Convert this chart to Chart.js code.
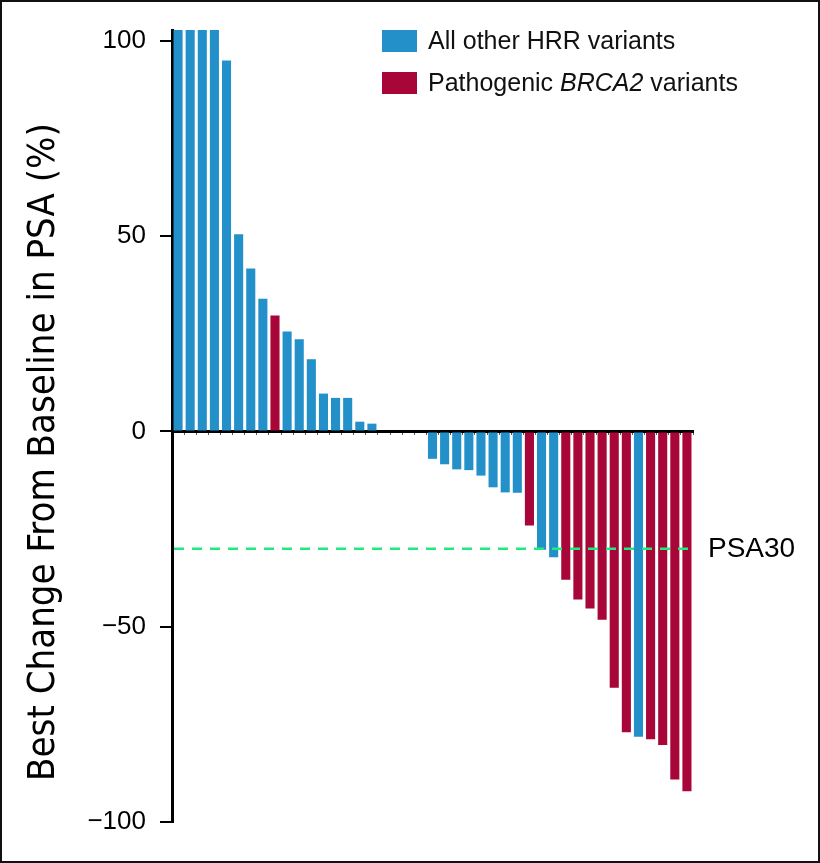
<!DOCTYPE html>
<html>
<head>
<meta charset="utf-8">
<script src="https://cdn.jsdelivr.net/npm/chart.js@4.4.1/dist/chart.umd.min.js"></script>
<style>
  html, body { margin: 0; padding: 0; background: #fff; }
  canvas { display: block; }
</style>
</head>
<body>
<canvas id="psaChart" width="820" height="863"></canvas>
<script>
// best PSA change per patient, sorted (waterfall); first four run off the top of the axis
const patients = Array.from({ length: 43 }, (_, i) => "P" + (i + 1));
const psaChange = [
  110, 110, 110, 110, 95, 50.5, 41.7, 34, 29.7, 25.6, 23.6, 18.5, 9.7, 8.6, 8.6, 2.5, 2,
  0, 0, 0, 0,
  -7, -8.4, -9.7, -9.9, -11.3, -14.3, -15.6, -15.7, -24.1, -30.3, -32.2,
  -38, -43, -45.3, -48.2, -65.6, -77, -78.2, -78.8, -80.3, -89.1, -92.1,
];
// "hrr" = all other HRR variants, "brca2" = pathogenic BRCA2 variants
const variantGroup = [
  "hrr", "hrr", "hrr", "hrr", "hrr", "hrr", "hrr", "hrr", "brca2", "hrr", "hrr", "hrr", "hrr", "hrr", "hrr", "hrr", "hrr",
  "hrr", "hrr", "hrr", "hrr",
  "hrr", "hrr", "hrr", "hrr", "hrr", "hrr", "hrr", "hrr", "brca2", "hrr", "hrr",
  "brca2", "brca2", "brca2", "brca2", "brca2", "brca2", "hrr", "brca2", "brca2", "brca2", "brca2",
];
const yTicks = [-100, -50, 0, 50, 100];
const psa30 = -30;
const yTitle = "Best Change From Baseline in PSA (%)";

const groupColors = { hrr: "#2390c9", brca2: "#a80538" };
const legendItems = [
  { group: "hrr", parts: [{ text: "All other HRR variants", italic: false }] },
  {
    group: "brca2",
    parts: [
      { text: "Pathogenic ", italic: false },
      { text: "BRCA2", italic: true },
      { text: " variants", italic: false },
    ],
  },
];

const extras = {
  id: "extras",
  afterDatasetsDraw(chart) {
    const ctx = chart.ctx;
    const area = chart.chartArea;
    const y = chart.scales.y.getPixelForValue(psa30);
    ctx.save();
    // PSA30 reference line
    ctx.strokeStyle = "#1deb7c";
    ctx.lineWidth = 2.5;
    ctx.setLineDash([10, 8]);
    ctx.beginPath();
    ctx.moveTo(area.left + 2, y);
    ctx.lineTo(area.right, y);
    ctx.stroke();
    ctx.setLineDash([]);
    ctx.fillStyle = "#000";
    ctx.font = "28px 'Liberation Sans', Arial, sans-serif";
    ctx.textBaseline = "middle";
    ctx.textAlign = "left";
    ctx.fillText("PSA30", area.right + 15, y + 1);
    ctx.restore();
  },
  afterDraw(chart) {
    const ctx = chart.ctx;
    ctx.save();
    // y axis title (sits a little below the plot's centre in the original)
    ctx.save();
    ctx.translate(44, 452);
    ctx.rotate(-Math.PI / 2);
    ctx.font = "38px 'Liberation Sans Narrow', 'DejaVu Sans Condensed', sans-serif";
    ctx.fillStyle = "#000";
    ctx.textAlign = "center";
    ctx.textBaseline = "middle";
    ctx.fillText(yTitle, 0, 0);
    ctx.restore();
    // legend
    legendItems.forEach((item, i) => {
      const top = 30 + i * 42;
      ctx.fillStyle = groupColors[item.group];
      ctx.fillRect(382, top, 35, 22);
      let x = 428;
      ctx.fillStyle = "#111";
      ctx.textBaseline = "middle";
      item.parts.forEach((p) => {
        ctx.font = (p.italic ? "italic " : "") + "25px 'Liberation Sans', Arial, sans-serif";
        ctx.fillText(p.text, x, top + 12);
        x += ctx.measureText(p.text).width;
      });
    });
    // outer frame
    ctx.strokeStyle = "#111";
    ctx.lineWidth = 2;
    ctx.strokeRect(1, 1, chart.width - 2, chart.height - 2);
    ctx.restore();
  },
};

const ctx = document.getElementById("psaChart").getContext("2d");
const chart = new Chart(ctx, {
  type: "bar",
  data: {
    labels: patients,
    datasets: [
      {
        label: "Best change from baseline in PSA",
        data: psaChange,
        backgroundColor: variantGroup.map((g) => groupColors[g]),
        borderWidth: 0,
        barPercentage: 0.75,
        categoryPercentage: 1,
      },
    ],
  },
  options: {
    responsive: false,
    animation: false,
    layout: {
      padding: { top: 30, right: 127, bottom: 41, left: 0 },
    },
    scales: {
      x: {
        position: { y: 0 },
        ticks: { display: false },
        grid: {
          drawOnChartArea: false,
          tickLength: 2,
          color: "#555",
        },
        border: { display: true, color: "#000", width: 3 },
      },
      y: {
        min: -100,
        max: 102.8,
        afterBuildTicks: (scale) => {
          scale.ticks = yTicks.map((v) => ({ value: v }));
        },
        afterFit: (scale) => {
          scale.width = 172;
        },
        ticks: {
          color: "#000",
          padding: 14,
          font: { family: "'Liberation Sans', Arial, sans-serif", size: 26 },
          callback: (v) => (v < 0 ? "\u2212" + Math.abs(v) : v),
        },
        grid: {
          drawOnChartArea: false,
          tickLength: 12,
          color: "#000",
          lineWidth: 2,
        },
        border: { display: true, color: "#000", width: 3 },
      },
    },
    plugins: {
      legend: { display: false },
      tooltip: { enabled: false },
    },
  },
  plugins: [extras],
});
</script>
</body>
</html>
